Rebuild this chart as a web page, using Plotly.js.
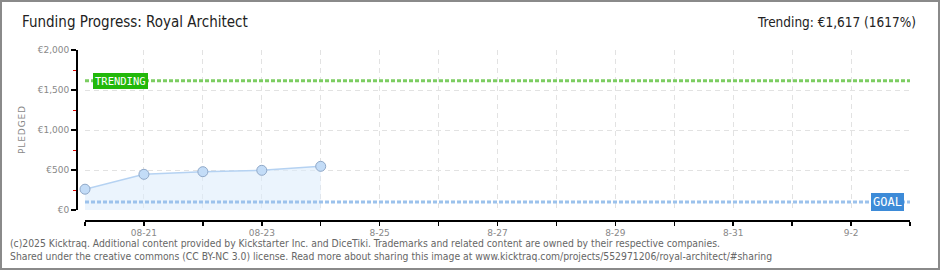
<!DOCTYPE html>
<html>
<head>
<meta charset="utf-8">
<script src="https://cdn.plot.ly/plotly-3.0.1.min.js"></script>
<style>
html,body{margin:0;padding:0;background:#fff;}
#wrap{position:relative;width:940px;height:270px;}
#chart{width:940px;height:270px;}
#frame{position:absolute;left:0;top:0;width:936px;height:266px;border:2px solid #8a8a8a;pointer-events:none;}
</style>
</head>
<body>
<div id="wrap"><div id="chart"></div><div id="frame"></div></div>
<script>
// ---- data ----
const dates = ['2025-08-20','2025-08-21','2025-08-22','2025-08-23','2025-08-24'];
const pledged = [260, 446, 479, 496, 546];
const goal = 100;
const trending = 1617;
const rangeDates = ['2025-08-20','2025-09-03'];
const tickDates = ['2025-08-20','2025-08-21','2025-08-22','2025-08-23','2025-08-24','2025-08-25','2025-08-26','2025-08-27','2025-08-28','2025-08-29','2025-08-30','2025-08-31','2025-09-01','2025-09-02','2025-09-03'];
const tickLabels = ['','08-21','','08-23','','8-25','','8-27','','8-29','','8-31','','9-2',''];
const yTickVals = [0, 500, 1000, 1500, 2000];
const yTickText = ['€0','€500','€1,000','€1,500','€2,000'];
const yMinorVals = [250, 750, 1250, 1750];
const titleText = 'Funding Progress: Royal Architect';
const trendText = 'Trending: €1,617 (1617%)';
const yTitle = 'P\u200aL\u200aE\u200aD\u200aG\u200aE\u200aD';
const footer1 = '(c)2025 Kicktraq. Additional content provided by Kickstarter Inc. and DiceTiki. Trademarks and related content are owned by their respective companies.';
const footer2 = 'Shared under the creative commons (CC BY-NC 3.0) license. Read more about sharing this image at www.kicktraq.com/projects/552971206/royal-architect/#sharing';

// ---- layout geometry ----
const W = 940, H = 270;
const M = {l: 76, r: 30, t: 50, b: 50};
const PW = W - M.l - M.r, PH = H - M.t - M.b;
const px = x => (x - M.l) / PW;
const py = y => (H - M.b - y) / PH;

const headFont = 'DejaVu Sans Condensed, DejaVu Sans, sans-serif';
const smallFont = 'DejaVu Sans, sans-serif';
const footFont = 'DejaVu Sans Condensed, DejaVu Sans, sans-serif';

const traces = [
  {
    x: dates, y: pledged, type: 'scatter', mode: 'lines+markers',
    fill: 'tozeroy', fillcolor: 'rgba(222,236,252,0.6)',
    line: {color: '#b5d2f2', width: 1.5},
    marker: {size: 10, color: '#c3dcf7', line: {color: '#8fa8c8', width: 1}},
    cliponaxis: false,
    hoverinfo: 'skip', showlegend: false
  },
  {
    x: rangeDates, y: [goal, goal], type: 'scatter', mode: 'lines',
    line: {color: '#9cc2ec', width: 3, dash: '4px,2px'},
    hoverinfo: 'skip', showlegend: false
  },
  {
    x: rangeDates, y: [trending, trending], type: 'scatter', mode: 'lines',
    line: {color: '#7ccd62', width: 3, dash: '4px,2px'},
    hoverinfo: 'skip', showlegend: false
  }
];

const layout = {
  width: W, height: H, autosize: false,
  margin: M,
  paper_bgcolor: '#fff', plot_bgcolor: '#fff',
  showlegend: false,
  xaxis: {
    type: 'date', range: rangeDates,
    domain: [px(85), 1],
    anchor: 'free', position: 0,
    tickvals: tickDates, ticktext: tickLabels,
    ticks: 'outside', ticklen: 4, tickcolor: '#000', tickwidth: 1.5,
    showline: true, linecolor: '#000', linewidth: 1.5,
    showgrid: true, gridcolor: '#e2e2e2', griddash: '5px,4px', gridwidth: 1,
    zeroline: false,
    tickfont: {family: smallFont, size: 9, color: '#888'}
  },
  yaxis: {
    range: [0, 2000],
    domain: [py(210), 1],
    anchor: 'free', position: 0,
    tickvals: yTickVals, ticktext: yTickText,
    ticks: 'outside', ticklen: 5, tickcolor: '#000', tickwidth: 1.5,
    showline: true, linecolor: '#000', linewidth: 1.5,
    showgrid: true, gridcolor: '#e2e2e2', griddash: '5px,4px', gridwidth: 1,
    zeroline: false,
    minor: {tickvals: yMinorVals, ticks: 'outside', ticklen: 3, tickcolor: '#e00000', tickwidth: 1, showgrid: false},
    tickfont: {family: smallFont, size: 9, color: '#888'}
  },
  annotations: [
    {xref: 'paper', yref: 'paper', x: px(20), y: py(22), xanchor: 'left', yanchor: 'middle',
     text: titleText, showarrow: false, font: {family: headFont, size: 15, color: '#222'}},
    {xref: 'paper', yref: 'paper', x: px(918), y: py(22), xanchor: 'right', yanchor: 'middle',
     text: trendText, showarrow: false, font: {family: headFont, size: 13.5, color: '#222'}},
    {xref: 'paper', yref: 'paper', x: px(22), y: py(130), xanchor: 'center', yanchor: 'middle',
     text: yTitle, textangle: -90, showarrow: false, font: {family: smallFont, size: 9, color: '#888'}},
    {xref: 'paper', yref: 'y', x: px(93), y: trending, xanchor: 'left', yanchor: 'middle',
     text: 'TRENDING', showarrow: false, bgcolor: '#22b80a', borderpad: 2, borderwidth: 0,
     font: {family: 'DejaVu Sans Mono, monospace', size: 10.5, color: '#fff'}},
    {xref: 'paper', yref: 'y', x: px(871), y: goal, xanchor: 'left', yanchor: 'middle',
     text: 'GOAL', showarrow: false, bgcolor: '#3d8bd8', borderpad: 2, borderwidth: 0,
     font: {family: 'DejaVu Sans Mono, monospace', size: 12, color: '#fff'}},
    {xref: 'paper', yref: 'paper', x: px(872), y: py(165), xanchor: 'center', yanchor: 'middle',
     text: '<i>K</i>', showarrow: false, font: {family: 'DejaVu Serif, serif', size: 48, color: 'rgba(0,0,0,0.025)'}},
    {xref: 'paper', yref: 'paper', x: px(8), y: py(243), xanchor: 'left', yanchor: 'middle',
     text: footer1, showarrow: false, font: {family: footFont, size: 10.3, color: '#666'}},
    {xref: 'paper', yref: 'paper', x: px(8), y: py(256), xanchor: 'left', yanchor: 'middle',
     text: footer2, showarrow: false, font: {family: footFont, size: 10.3, color: '#666'}}
  ]
};

Plotly.newPlot('chart', traces, layout, {staticPlot: true, displayModeBar: false});
</script>
</body>
</html>
